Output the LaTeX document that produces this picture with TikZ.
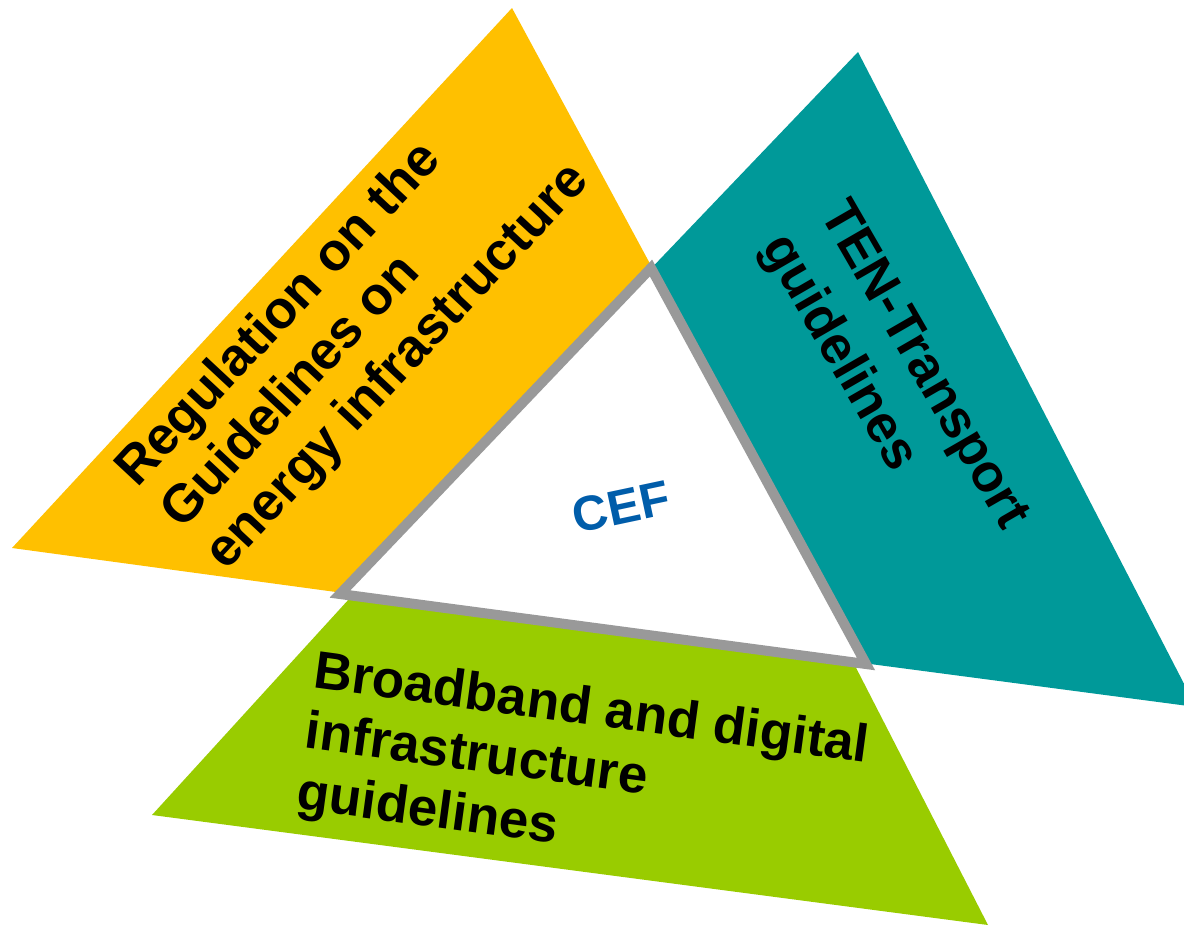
\documentclass[tikz,border=0pt]{standalone}
\usepackage{fontspec}
\setmainfont{Liberation Sans}
\definecolor{orangeF}{HTML}{FFC000}
\definecolor{tealF}{HTML}{009999}
\definecolor{greenF}{HTML}{99CC00}
\definecolor{grayB}{HTML}{999999}
\definecolor{cefBlue}{HTML}{005DAA}
\tikzset{
  lbl/.style={inner sep=0pt, align=left, text=black, font=\fontsize{53}{61}\selectfont\bfseries},
  cefstyle/.style={inner sep=0pt, text=cefBlue, font=\fontsize{49}{58}\selectfont\bfseries},
  inner triangle/.style={fill=white, draw=grayB, line width=10pt, line join=miter}
}
\begin{document}
\begin{tikzpicture}[x=1pt,y=-1pt]
\useasboundingbox (0,0) rectangle (1184,927);
\clip (0,0) rectangle (1184,927);
% inner triangle vertices
\coordinate (A) at (651,268);
\coordinate (B) at (340,594);
\coordinate (C) at (866,664);
% outer vertices
\coordinate (O1) at (512,8);
\coordinate (O2) at (12,548);
\coordinate (T1) at (858,52);
\coordinate (T2) at (1196,707);
\coordinate (G1) at (152,815);
\coordinate (G2) at (988,925);
% outer triangles
\fill[orangeF] (O1) -- (O2) -- (C) -- cycle;
\fill[tealF] (T1) -- (B) -- (T2) -- cycle;
\fill[greenF] (A) -- (G1) -- (G2) -- cycle;
% centre triangle
\draw[inner triangle] (A) -- (B) -- (C) -- cycle;
% labels
\node[lbl, rotate=47] (energy) at (354,326) {Regulation on the\\Guidelines on\\energy infrastructure};
\node[lbl, rotate=-60, font=\fontsize{53}{67}\selectfont\bfseries] (transport) at (893,383) {TEN-Transport\\guidelines};
\node[lbl, rotate=-7.7] (digital) at (583,772) {Broadband and digital\\infrastructure\\guidelines};
\node[cefstyle, rotate=12] (cef) at (621,507) {CEF};
\end{tikzpicture}
\end{document}
